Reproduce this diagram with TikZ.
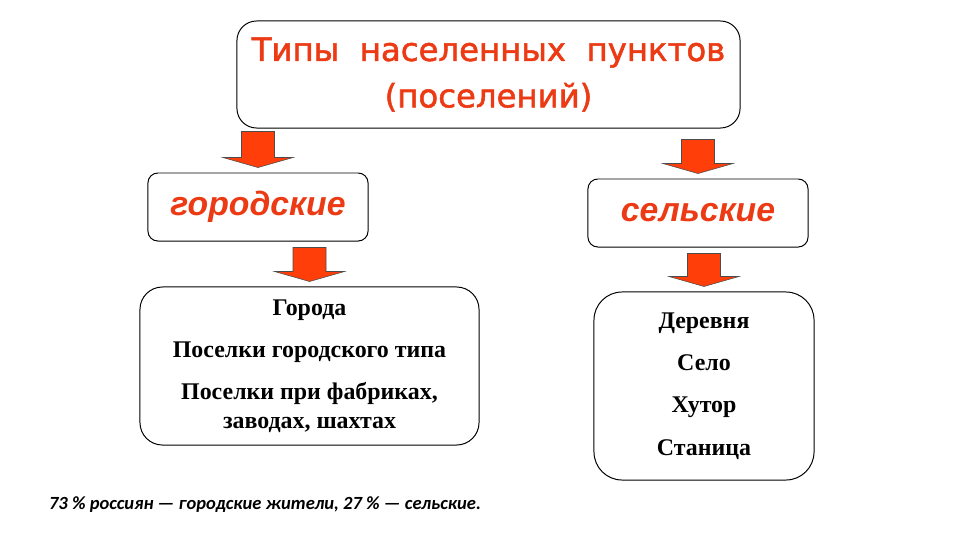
\documentclass[tikz,border=0pt]{standalone}
\usepackage{fontspec}
\usetikzlibrary{calc}
\setmainfont{Liberation Serif}
\newfontfamily\titlefont[FakeBold=1.6]{DejaVu Sans}
\newfontfamily\kindfont{Liberation Sans}
\newfontfamily\notefont{Carlito}
\definecolor{titlered}{RGB}{235,58,20}
\definecolor{arrowred}{RGB}{255,62,10}
\begin{document}
\begin{tikzpicture}[x=0.025cm, y=-0.025cm, line width=0.7pt,
    box/.style={draw, rounded corners=#1, inner sep=0pt, align=center},
    box/.default=7pt,
    kind/.style={box, minimum width=5.5cm, minimum height=1.7cm,
        font=\kindfont\bfseries\itshape\fontsize{24}{28}\selectfont, text=titlered},
    items/.style={box=#1, font=\bfseries\fontsize{17}{20}\selectfont},
    fatarrow/.style={fill=arrowred, draw=black!70, line width=0.4pt}]
    \useasboundingbox (0,0) rectangle (960,540);
    \node[box=14pt, minimum width=12.575cm, minimum height=2.675cm, text=titlered,
        font=\titlefont\fontsize{23}{33}\selectfont] (title) at (488.5,74.5)
        {Типы \ населенных \ пунктов\\(поселений)};
    \node[kind] (urban) at (258,207) {городские};
    \node[kind] (rural) at (698,213) {сельские};
    \node[items=16pt, minimum width=8.475cm, minimum height=3.95cm] (urblist) at (309.5,366)
        {Города\\[10pt]Поселки городского типа\\[10pt]Поселки при фабриках,\\заводах, шахтах};
    \node[items=20pt, minimum width=5.5cm, minimum height=4.7cm] (rurlist) at (704,386)
        {Деревня\\[10pt]Село\\[10pt]Хутор\\[10pt]Станица};
    \foreach \from/\to/\gap in {title/urban/3, title/rural/11, urban/urblist/6, rural/rurlist/6}
        \draw[fatarrow] ($(\from.south -| \to.north)+(-16.5,\gap)$) -- ($(\to.north)+(-16.5,-15)$)
            -- ($(\to.north)+(-35,-15)$) -- ($(\to.north)+(0,-5)$) -- ($(\to.north)+(35,-15)$)
            -- ($(\to.north)+(16.5,-15)$) -- ($(\from.south -| \to.north)+(16.5,\gap)$) -- cycle;
    \node[font=\notefont\bfseries\itshape\fontsize{13.2}{15}\selectfont] (note) at (265,505)
        {73 \% россиян — городские жители, 27 \% — сельские.};
\end{tikzpicture}
\end{document}
